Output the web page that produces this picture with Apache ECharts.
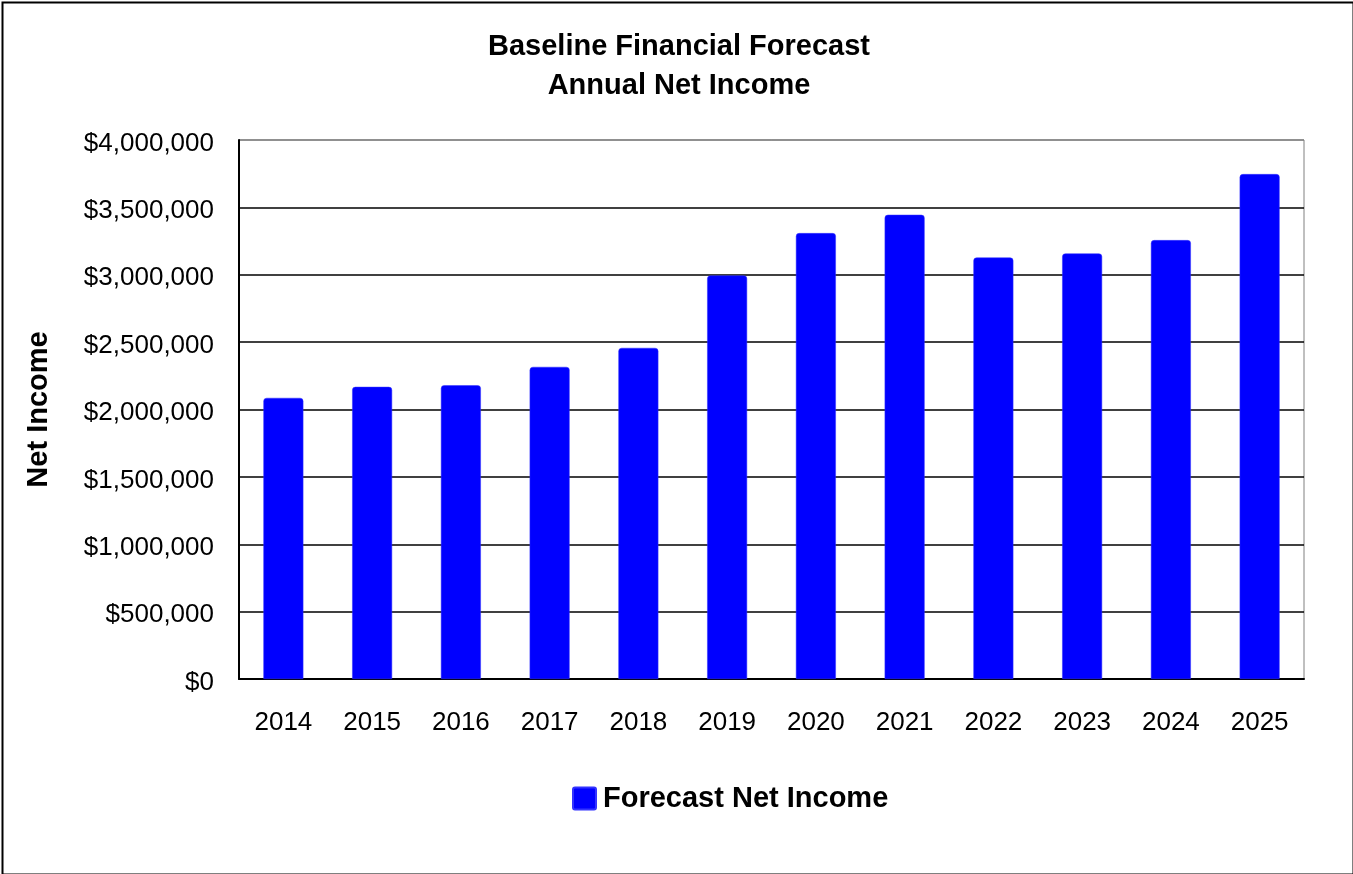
<!DOCTYPE html>
<html>
<head>
<meta charset="utf-8">
<script src="https://cdn.jsdelivr.net/npm/echarts@6/dist/echarts.min.js"></script>
<style>
html,body{margin:0;padding:0;background:#fff;}
#chart{width:1353px;height:874px;}
</style>
</head>
<body>
<div id="chart"></div>
<script>
const years = ['2014','2015','2016','2017','2018','2019','2020','2021','2022','2023','2024','2025'];
const netIncome = [2086000, 2168000, 2180000, 2316000, 2457000, 2995000, 3309000, 3445000, 3128000, 3158000, 3257000, 3747000];
const seriesName = 'Forecast Net Income';
const titleLines = ['Baseline Financial Forecast', 'Annual Net Income'];
const yAxisName = 'Net Income';

const FONT = '"Liberation Sans", Arial, sans-serif';
function money(v){ return '{v|$' + String(Math.round(v)).replace(/\B(?=(\d{3})+(?!\d))/g, ',') + '}'; }

const chart = echarts.init(document.getElementById('chart'), null, {renderer:'canvas'});
chart.setOption({
  animation: false,
  backgroundColor: '#ffffff',
  title: {
    text: titleLines.join('\n'),
    left: 674,
    textAlign: 'center',
    top: 22,
    textStyle: { fontFamily: FONT, fontSize: 29, fontWeight: 'bold', color: '#000', lineHeight: 39 }
  },
  legend: {
    data: [seriesName],
    left: 567,
    top: 779,
    icon: 'path://M2,0 L21,0 Q23,0 23,2 L23,20 Q23,22 21,22 L2,22 Q0,22 0,20 L0,2 Q0,0 2,0 Z',
    itemWidth: 23,
    itemHeight: 22,
    itemGap: 10,
    textStyle: { fontFamily: FONT, fontSize: 29, fontWeight: 'bold', color: '#000', padding: [0,0,0,2] }
  },
  grid: {
    left: 239, top: 140, right: 49, bottom: 195,
    show: true, borderColor: '#808080', borderWidth: 1, backgroundColor: 'transparent'
  },
  graphic: [{
    type: 'rect', left: 0, top: 0, silent: true,
    shape: { x: 1, y: 1, width: 1351, height: 872 },
    style: { fill: 'none', stroke: '#000', lineWidth: 2 }
  }],
  xAxis: {
    type: 'category',
    data: years,
    axisLine: { show: true, lineStyle: { color: '#000', width: 2 } },
    axisTick: { show: false },
    axisLabel: { fontFamily: FONT, fontSize: 26, color: '#000', margin: 31 },
    splitLine: { show: false }
  },
  yAxis: {
    type: 'value',
    min: 0, max: 4000000, interval: 500000,
    name: yAxisName,
    nameLocation: 'middle',
    nameGap: 186,
    nameTextStyle: { fontFamily: FONT, fontSize: 29, fontWeight: 'bold', color: '#000' },
    axisLine: { show: true, lineStyle: { color: '#000', width: 2 } },
    axisTick: { show: false },
    axisLabel: {
      fontFamily: FONT, fontSize: 26, color: '#000', margin: 25, formatter: money,
      rich: { v: { fontFamily: FONT, fontSize: 26, color: '#000', padding: [7,0,0,0] } }
    },
    splitLine: { show: true, lineStyle: { color: ['#000','#000','#000','#000','#000','#000','#000','#000','#808080'], width: 1.5 } }
  },
  series: [{
    name: seriesName,
    type: 'bar',
    data: netIncome,
    barCategoryGap: '55%',
    itemStyle: { color: '#0000ff', borderRadius: [3,3,0,0], borderColor: '#3333ff', borderWidth: 0.5 }
  }]
});
</script>
</body>
</html>
